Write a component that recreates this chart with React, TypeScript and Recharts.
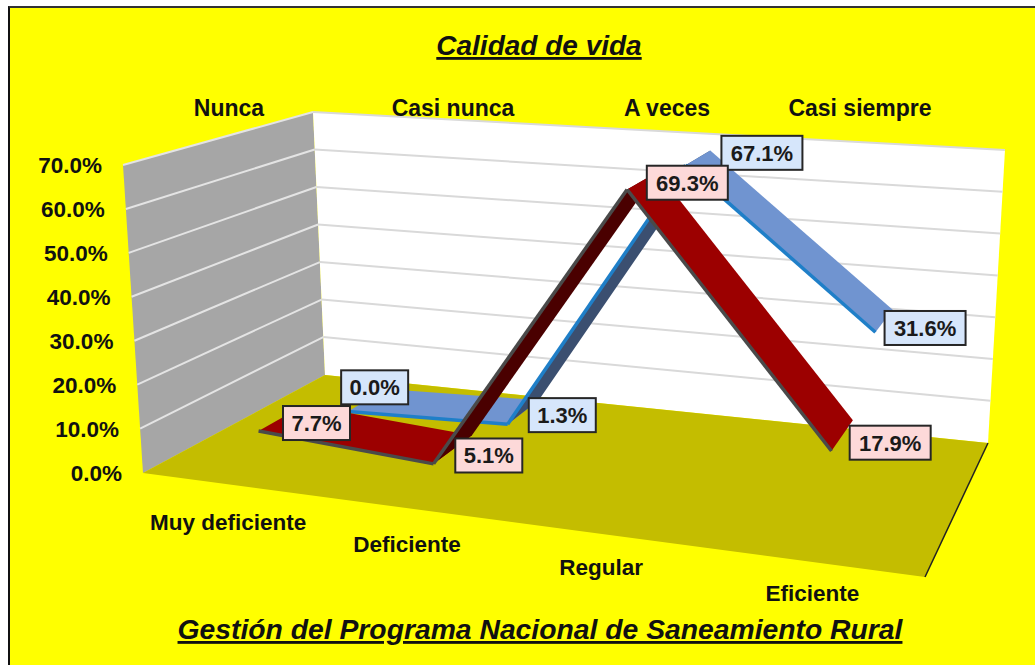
import { LineChart, Line, XAxis, YAxis, CartesianGrid, LabelList } from 'recharts'

const W = 1035
const H = 665

const categories = ['Muy deficiente', 'Deficiente', 'Regular', 'Eficiente']
const azul = [0.0, 1.3, 67.1, 31.6]
const rojo = [7.7, 5.1, 69.3, 17.9]
const yTicks = [0, 10, 20, 30, 40, 50, 60, 70]
const topLabels = ['Nunca', 'Casi nunca', 'A veces', 'Casi siempre']
const topLabelX = [229, 453, 667, 860]

const azulLabelOffset = [[8, -13], [39, 3], [64, -5], [41, 7]]
const rojoLabelOffset = [[35, 5], [36, 6], [45, 2], [48, 7]]

const data = categories.map((name, i) => ({ name, azul: azul[i], rojo: rojo[i] }))

type P = [number, number]

// corners of the 3D box as seen on screen
const A: P = [143, 473]
const B: P = [325, 375]
const C: P = [988, 443]
const D: P = [925, 577]
const E: P = [123, 165]
const F: P = [313, 112]
const G: P = [1005, 150]
const K: P = [947, 222]

const mix = (a: P, b: P, t: number): P => [a[0] + (b[0] - a[0]) * t, a[1] + (b[1] - a[1]) * t]

// flat chart pixel -> projected screen pixel, w is depth (0 front, 1 back)
function project(x: number, y: number, w: number): P {
  const u0 = x / W
  const u = u0 / (1.18 - 0.18 * u0)
  const v = 1 - y / H
  const bottom = mix(mix(A, D, u), mix(B, C, u), w)
  const top = mix(mix(E, K, u), mix(F, G, u), w)
  return mix(bottom, top, v)
}

const poly = (pts: P[]) => pts.map(p => `${p[0]},${p[1]}`).join(' ')

function makeRibbon(w0: number, w1: number, face: string, under: string, edge: string) {
  const seen: P[] = []
  return (props: any) => {
    const { cx, cy, index } = props
    seen[index] = [cx, cy]
    if (index === 0 || !seen[index - 1]) return <g key={index} />
    const prev = seen[index - 1]
    const a = project(prev[0], prev[1], w0)
    const b = project(cx, cy, w0)
    const c = project(cx, cy, w1)
    const d = project(prev[0], prev[1], w1)
    const cross = (b[0] - a[0]) * (d[1] - a[1]) - (b[1] - a[1]) * (d[0] - a[0])
    return (
      <g key={index}>
        <polygon points={poly([a, b, c, d])} fill={cross < 0 ? face : under} />
        <line x1={a[0]} y1={a[1]} x2={b[0]} y2={b[1]} stroke={edge} strokeWidth={3.5} />
      </g>
    )
  }
}

function makeLabel(w: number, offsets: number[][], fill: string) {
  return (props: any) => {
    const { x, y, value, index } = props
    const p = project(x, y, w)
    const cx = p[0] + offsets[index][0]
    const cy = p[1] + offsets[index][1]
    const text = `${Number(value).toFixed(1)}%`
    const bw = text.length > 4 ? 81 : 67
    return (
      <g key={index}>
        <rect x={cx - bw / 2} y={cy - 17} width={bw} height={34} fill={fill} stroke="#262626" strokeWidth={2} />
        <text x={cx} y={cy + 8} textAnchor="middle" fontSize={22} fontWeight="bold" fill="#1a1a1a">{text}</text>
      </g>
    )
  }
}

const gridLine = (props: any) => {
  const y = props.y1
  if (y >= H - 3) return <g key={props.key} />
  const a = project(0, y, 0)
  const b = project(0, y, 1)
  const c = project(W, y, 1)
  return (
    <g key={props.key}>
      <line x1={a[0]} y1={a[1]} x2={b[0]} y2={b[1]} stroke="#e4e4e4" strokeWidth={2} />
      <line x1={b[0]} y1={b[1]} x2={c[0]} y2={c[1]} stroke="#d9d9d9" strokeWidth={2} />
    </g>
  )
}

const XTick = (props: any) => {
  const { x, payload } = props
  const p = project(x, H, 0)
  const drop = 39 - 9 * (x / W)
  return (
    <text x={p[0]} y={p[1] + drop + 8} textAnchor="middle" fontSize={22.5} fontWeight="bold" fill="#111">
      {payload.value}
    </text>
  )
}

const YTick = (props: any) => {
  const { y, payload } = props
  const p = project(0, y, 0)
  return (
    <text x={p[0] - 21} y={p[1] + 8} textAnchor="end" fontSize={22.5} fontWeight="bold" fill="#111">
      {payload.value.toFixed(1)}%
    </text>
  )
}

export default function App() {
  return (
    <div style={{ position: 'absolute', left: 0, top: 0, width: W, height: H, background: '#fff', overflow: 'hidden', fontFamily: '"Liberation Sans", Arial, sans-serif' }}>
      <div style={{ position: 'absolute', left: 8, top: 6, width: W, height: H, background: '#ffff00', borderLeft: '2px solid #111', borderTop: '2px solid #333' }} />
      <svg width={W} height={H} style={{ position: 'absolute', left: 0, top: 0 }}>
        <polygon points={poly([E, F, B, A])} fill="#a6a6a6" />
        <polygon points={poly([F, G, C, B])} fill="#ffffff" />
        <polygon points={poly([A, B, C, D])} fill="#c4bd00" />
        <line x1={C[0]} y1={C[1]} x2={D[0]} y2={D[1]} stroke="#222" strokeWidth={1.5} />
      </svg>
      <div style={{ position: 'absolute', left: 0, top: 0 }}>
        <LineChart width={W} height={H} data={data} margin={{ top: 0, right: 0, bottom: 0, left: 0 }}>
          <CartesianGrid vertical={false} horizontal={gridLine} stroke="none" />
          <XAxis dataKey="name" scale="band" height={1} axisLine={false} tickLine={false} interval={0} tick={XTick} />
          <YAxis domain={[0, 70]} ticks={yTicks} width={1} axisLine={false} tickLine={false} interval={0} tick={YTick} />
          <Line
            dataKey="azul"
            stroke="none"
            isAnimationActive={false}
            activeDot={false}
            dot={makeRibbon(0.71, 0.93, '#7094d0', '#3b4f70', '#1f7fc8')}
          >
            <LabelList dataKey="azul" content={makeLabel(0.82, azulLabelOffset, '#d6e6fb')} />
          </Line>
          <Line
            dataKey="rojo"
            stroke="none"
            isAnimationActive={false}
            activeDot={false}
            dot={makeRibbon(0.19, 0.46, '#9c0000', '#4a0000', '#4a4a4a')}
          >
            <LabelList dataKey="rojo" content={makeLabel(0.325, rojoLabelOffset, '#fdd9d9')} />
          </Line>
          <text x={539} y={55} textAnchor="middle" fontSize={28} fontWeight="bold" fontStyle="italic" textDecoration="underline" fill="#111">
            Calidad de vida
          </text>
          <text x={540} y={639} textAnchor="middle" fontSize={28.3} fontWeight="bold" fontStyle="italic" textDecoration="underline" fill="#111">
            Gestión del Programa Nacional de Saneamiento Rural
          </text>
          {topLabels.map((t, i) => (
            <text key={t} x={topLabelX[i]} y={116} textAnchor="middle" fontSize={23} fontWeight="bold" fill="#111">
              {t}
            </text>
          ))}
        </LineChart>
      </div>
    </div>
  )
}
